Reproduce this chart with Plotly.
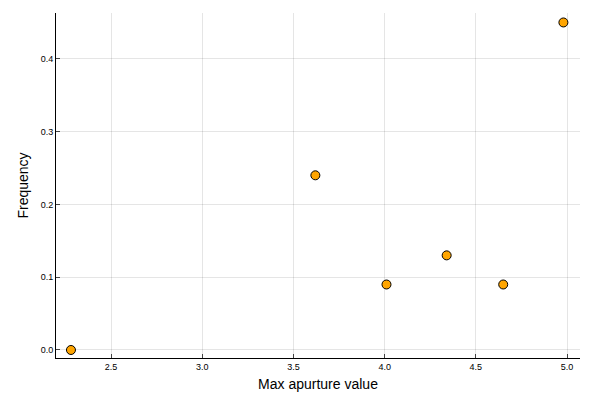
import plotly.graph_objects as go

x_vals = [2.28, 3.62, 4.01, 4.34, 4.65, 4.98]
y_vals = [0.0, 0.24, 0.09, 0.13, 0.09, 0.45]
x_ticks = [2.5, 3.0, 3.5, 4.0, 4.5, 5.0]
y_ticks = [0.0, 0.1, 0.2, 0.3, 0.4]

fig = go.Figure(go.Scatter(
    x=x_vals, y=y_vals, mode="markers",
    marker=dict(size=9, color="#FFA500", line=dict(color="black", width=1)),
))
fig.update_layout(
    width=600, height=400, plot_bgcolor="white", paper_bgcolor="white",
    margin=dict(l=48, r=28, t=5, b=50), showlegend=False,
    font=dict(family="Liberation Sans", color="black"),
)
fig.update_xaxes(
    range=[2.198, 5.071], tickvals=x_ticks, ticktext=[f"{v:.1f}" for v in x_ticks],
    showgrid=True, gridcolor="rgba(0,0,0,0.1)", showline=True, linecolor="black",
    ticks="inside", ticklen=4, tickfont=dict(size=9), zeroline=False,
    title=dict(text="Max apurture value", font=dict(size=14), standoff=8),
)
fig.update_yaxes(
    range=[-0.011, 0.463], tickvals=y_ticks, ticktext=[f"{v:.1f}" for v in y_ticks],
    showgrid=True, gridcolor="rgba(0,0,0,0.1)", showline=True, linecolor="black",
    ticks="inside", ticklen=4, tickfont=dict(size=9), zeroline=False,
    title=dict(text="Frequency", font=dict(size=14), standoff=8),
)
fig.write_html("out.html")
